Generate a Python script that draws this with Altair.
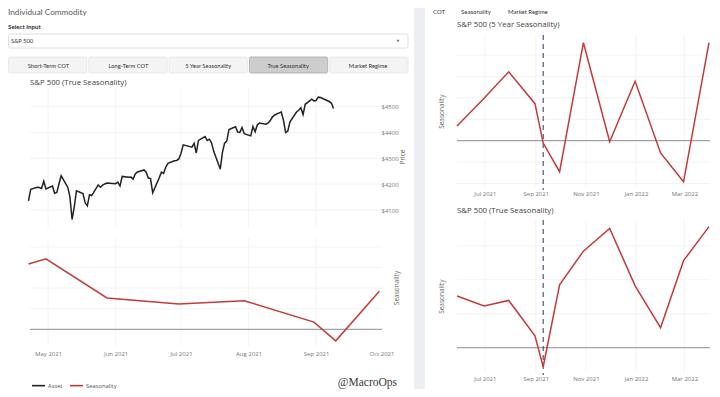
import altair as alt
import pandas as pd

# ---------------- data ----------------
price_dates = [
    "2021-04-22", "2021-04-23", "2021-04-26", "2021-04-27", "2021-04-28", "2021-04-29", "2021-04-30",
    "2021-05-03", "2021-05-04", "2021-05-05", "2021-05-06", "2021-05-07", "2021-05-10", "2021-05-11",
    "2021-05-12", "2021-05-13", "2021-05-14", "2021-05-17", "2021-05-18", "2021-05-19", "2021-05-20",
    "2021-05-21", "2021-05-24", "2021-05-25", "2021-05-26", "2021-05-27", "2021-05-28",
    "2021-06-01", "2021-06-02", "2021-06-03", "2021-06-04", "2021-06-07", "2021-06-08", "2021-06-09",
    "2021-06-10", "2021-06-11", "2021-06-14", "2021-06-15", "2021-06-16", "2021-06-17", "2021-06-18",
    "2021-06-21", "2021-06-22", "2021-06-23", "2021-06-24", "2021-06-25", "2021-06-28", "2021-06-29",
    "2021-06-30",
    "2021-07-01", "2021-07-02", "2021-07-06", "2021-07-07", "2021-07-08", "2021-07-09", "2021-07-12",
    "2021-07-13", "2021-07-14", "2021-07-15", "2021-07-16", "2021-07-19", "2021-07-20", "2021-07-21",
    "2021-07-22", "2021-07-23", "2021-07-26", "2021-07-27", "2021-07-28", "2021-07-29", "2021-07-30",
    "2021-08-02", "2021-08-03", "2021-08-04", "2021-08-05", "2021-08-06", "2021-08-09", "2021-08-10",
    "2021-08-11", "2021-08-12", "2021-08-13", "2021-08-16", "2021-08-17", "2021-08-18", "2021-08-19",
    "2021-08-20", "2021-08-23", "2021-08-24", "2021-08-25", "2021-08-26", "2021-08-27", "2021-08-30",
    "2021-08-31",
    "2021-09-01", "2021-09-02", "2021-09-03", "2021-09-07", "2021-09-08", "2021-09-09",
]
price_close = [
    4134.98, 4180.17, 4187.62, 4186.72, 4183.18, 4211.47, 4181.17,
    4192.66, 4164.66, 4167.59, 4201.62, 4232.60, 4188.43, 4152.10,
    4063.04, 4112.50, 4173.85, 4163.29, 4127.83, 4115.68, 4159.12,
    4155.86, 4197.05, 4188.13, 4195.99, 4200.88, 4204.11,
    4202.04, 4208.12, 4192.85, 4229.89, 4226.52, 4227.26, 4219.55,
    4239.18, 4247.44, 4255.15, 4246.59, 4223.70, 4221.86, 4166.45,
    4224.79, 4246.44, 4241.84, 4266.49, 4280.70, 4290.61, 4291.80,
    4297.50,
    4319.94, 4352.34, 4343.54, 4358.13, 4320.82, 4369.55, 4384.63,
    4369.21, 4374.30, 4360.03, 4327.16, 4258.49, 4323.06, 4358.69,
    4367.48, 4411.79, 4422.30, 4401.46, 4400.64, 4419.15, 4395.26,
    4387.16, 4423.15, 4402.66, 4429.10, 4436.52, 4432.35, 4436.75,
    4447.70, 4460.83, 4468.00, 4479.71, 4448.08, 4400.27, 4405.80,
    4441.67, 4479.53, 4486.23, 4496.19, 4469.91, 4509.37, 4528.79,
    4522.68,
    4524.09, 4536.95, 4535.43, 4520.03, 4514.07, 4493.28,
]

seas_dates = [
    "2021-04-22", "2021-04-30", "2021-05-28", "2021-06-30", "2021-07-30", "2021-08-31", "2021-09-10",
    "2021-09-30", "2021-10-29", "2021-11-30", "2021-12-31", "2022-01-31", "2022-02-28", "2022-03-31",
]
true_seasonality = [3.17, 3.42, 1.52, 1.23, 1.39, 0.35, -0.56, 1.85, 2.84, 3.51, 1.82, 0.59, 2.56, 3.56]

five_year_dates = [
    "2021-05-28", "2021-06-30", "2021-07-30", "2021-08-31", "2021-09-10", "2021-09-30",
    "2021-10-29", "2021-11-30", "2021-12-31", "2022-01-31", "2022-02-28", "2022-03-31",
]
five_year_seasonality = [0.69, 1.98, 3.22, 1.73, -0.11, -1.45, 4.58, -0.05, 2.78, -0.57, -1.92, 4.58]

current_date = "2021-09-10"
left_last_date = "2021-09-30"

price_ticks = [4100, 4200, 4300, 4400, 4500]
left_season_grid = [1, 2, 3, 4]
top_right_grid = [-2, -1, 1, 2, 3, 4]
bottom_right_grid = [1, 2, 3]
left_month_ticks = ["2021-05-01", "2021-06-01", "2021-07-01", "2021-08-01", "2021-09-01", "2021-10-01"]
right_month_ticks = ["2021-07-01", "2021-09-01", "2021-11-01", "2022-01-01", "2022-03-01"]

buttons = ["Short-Term COT", "Long-Term COT", "5 Year Seasonality", "True Seasonality", "Market Regime"]
active_button = "True Seasonality"
series_names = ["Asset", "Seasonality"]

# ---------------- layout helpers ----------------
W, H = 704, 381


def X(v):
    return v - 8


def Y(v):
    return v - 8


GRID = "#f0f0f0"
ZERO = "#8c8c8c"
RED = "#c23b3b"
LBL = "#777777"
PF = "Open Sans"
UF = "Lato"


def dt(s):
    y, m, d = map(int, s.split("-"))
    return alt.DateTime(year=y, month=m, date=d)


one = pd.DataFrame({"k": [0]})


def text_layer(txt, x, y, size, color="#444444", font=PF, weight="normal", align="left", angle=0):
    kw = dict(align=align, baseline="middle", fontSize=size, font=font, fontWeight=weight, color=color)
    if angle:
        kw["angle"] = angle
    return alt.Chart(pd.DataFrame({"t": [txt]})).mark_text(**kw).encode(
        x=alt.value(x), y=alt.value(y), text="t:N")


price_df = pd.DataFrame({"date": pd.to_datetime(price_dates), "value": price_close, "series": "Asset"})
seas_df = pd.DataFrame({"date": pd.to_datetime(seas_dates), "value": true_seasonality, "series": "Seasonality"})
left_seas_df = seas_df[seas_df["date"] <= pd.Timestamp(left_last_date)]
right_true_df = seas_df[seas_df["date"] >= pd.Timestamp(five_year_dates[0])]
five_df = pd.DataFrame({"date": pd.to_datetime(five_year_dates), "value": five_year_seasonality})
now_df = pd.DataFrame({"date": pd.to_datetime([current_date])})
left_grid_dates = pd.DataFrame({"date": pd.to_datetime(left_month_ticks[:-1])})
right_grid_dates = pd.DataFrame({"date": pd.to_datetime(right_month_ticks)})

# scales
lx = alt.Scale(domain=[dt("2021-04-22"), dt("2021-10-01")], range=[X(28.5), X(381.5)])
rx = alt.Scale(domain=[dt("2021-05-28"), dt("2022-03-31")], range=[X(457), X(709)])
py = alt.Scale(domain=[4100, 4500], range=[Y(210), Y(106.7)], zero=False, nice=False)
ly = alt.Scale(domain=[0, 4], range=[Y(329.3), Y(246.9)], zero=False, nice=False)
ty = alt.Scale(domain=[-2, 4], range=[Y(183.5), Y(55.1)], zero=False, nice=False)
by = alt.Scale(domain=[0, 3], range=[Y(347.7), Y(245.7)], zero=False, nice=False)
color_scale = alt.Scale(domain=series_names, range=["#222222", RED])

legend = alt.Legend(orient="none", legendX=X(31), legendY=Y(378), direction="horizontal", title=None,
                    symbolType="stroke", symbolSize=169, symbolStrokeWidth=1.6, labelFont=PF,
                    labelFontSize=5.8, labelColor="#555555", columnPadding=3, labelOffset=2, padding=0)


def date_axis(ticks, offset):
    return alt.Axis(orient="bottom", values=[dt(t) for t in ticks], format="%b %Y", offset=offset,
                    domain=False, ticks=False, grid=False, title=None, labelFont=PF, labelFontSize=6,
                    labelColor=LBL, labelPadding=2, labelOverlap=False, labelFlush=False, labelBound=False)


layers = []

# separator band between the panels
layers.append(alt.Chart(one).mark_rect(color="#eceef3").encode(
    x=alt.value(X(414)), x2=alt.value(X(425)), y=alt.value(0), y2=alt.value(H)))

# ---------- left panel UI ----------
layers.append(text_layer("Individual Commodity", 0, 5, 8.2, color="#5a5a5a", font=UF))
layers.append(text_layer("Select Input", 0, Y(27), 6.2, color="#333333", font=UF, weight="bold"))
layers.append(alt.Chart(one).mark_rect(fill="white", stroke="#d6d6d6", strokeWidth=0.8, cornerRadius=2).encode(
    x=alt.value(0.5), x2=alt.value(X(408)), y=alt.value(Y(34)), y2=alt.value(Y(48))))
layers.append(text_layer("S&P 500", 3, Y(41), 5.8, color="#333333", font=UF))
layers.append(alt.Chart(one).mark_point(shape="triangle-down", filled=True, size=9, color="#333333").encode(
    x=alt.value(X(398)), y=alt.value(Y(41))))

btn_df = pd.DataFrame({"label": buttons, "active": [b == active_button for b in buttons]})
bx = alt.Scale(domain=buttons, range=[0.5, X(408)], paddingInner=0.025, paddingOuter=0)
layers.append(alt.Chart(btn_df).mark_rect(strokeWidth=0.8, cornerRadius=1.5).encode(
    x=alt.X("label:N", scale=bx, axis=None, sort=buttons),
    y=alt.value(Y(57)), y2=alt.value(Y(73)),
    fill=alt.condition("datum.active", alt.value("#cdcdcd"), alt.value("#f4f4f4")),
    stroke=alt.condition("datum.active", alt.value("#a8a8a8"), alt.value("#e4e4e4"))))
layers.append(alt.Chart(btn_df).mark_text(fontSize=5.8, font=UF, color="#333333", baseline="middle").encode(
    x=alt.X("label:N", scale=bx, axis=None, sort=buttons), y=alt.value(Y(65.5)), text="label:N"))

# ---------- left chart ----------
layers.append(text_layer("S&P 500 (True Seasonality)", X(30), Y(83), 7.8, color="#444444"))

layers.append(alt.Chart(pd.DataFrame({"v": price_ticks})).mark_rule(color=GRID, strokeWidth=0.8).encode(
    y=alt.Y("v:Q", scale=py, axis=None), x=alt.value(X(30)), x2=alt.value(X(382))))
layers.append(alt.Chart(left_grid_dates).mark_rule(color=GRID, strokeWidth=0.8).encode(
    x=alt.X("date:T", scale=lx, axis=None), y=alt.value(Y(88)), y2=alt.value(Y(228))))
layers.append(alt.Chart(price_df).mark_line(strokeWidth=1.5).encode(
    x=alt.X("date:T", scale=lx, axis=None),
    y=alt.Y("value:Q", scale=py, axis=alt.Axis(
        orient="right", values=price_ticks, labelExpr="'$' + datum.value", offset=X(381) - W - 2,
        domain=False, ticks=False, grid=False, title=None, labelFont=PF, labelFontSize=6,
        labelColor=LBL, labelPadding=2)),
    color=alt.Color("series:N", scale=color_scale, legend=legend)))
layers.append(text_layer("Price", X(403), Y(157), 6.5, color="#666666", align="center", angle=270))

layers.append(alt.Chart(pd.DataFrame({"v": left_season_grid})).mark_rule(color=GRID, strokeWidth=0.8).encode(
    y=alt.Y("v:Q", scale=ly, axis=None), x=alt.value(X(30)), x2=alt.value(X(382))))
layers.append(alt.Chart(left_grid_dates).mark_rule(color=GRID, strokeWidth=0.8).encode(
    x=alt.X("date:T", scale=lx, axis=None), y=alt.value(Y(238)), y2=alt.value(Y(346))))
layers.append(alt.Chart(pd.DataFrame({"v": [0]})).mark_rule(color=ZERO, strokeWidth=1).encode(
    y=alt.Y("v:Q", scale=ly, axis=None), x=alt.value(X(30)), x2=alt.value(X(382))))
layers.append(alt.Chart(left_seas_df).mark_line(strokeWidth=1.5).encode(
    x=alt.X("date:T", scale=lx, axis=date_axis(left_month_ticks, -41)),
    y=alt.Y("value:Q", scale=ly, axis=None),
    color=alt.Color("series:N", scale=color_scale, legend=legend)))
layers.append(text_layer("Seasonality", X(397), Y(288), 6.5, color="#666666", align="center", angle=270))

layers.append(alt.Chart(pd.DataFrame({"t": ["@MacroOps"]})).mark_text(
    align="right", baseline="middle", fontSize=11.5, font="Liberation Serif", color="#3a3a3a").encode(
    x=alt.value(X(397)), y=alt.value(Y(383)), text="t:N"))

# ---------- right panel ----------
layers.append(text_layer("COT", X(433), 4, 6, color="#333333", font=UF))
layers.append(text_layer("Seasonality", X(461), 4, 6, color="#333333", font=UF))
layers.append(text_layer("Market Regime", X(508), 4, 6, color="#333333", font=UF))


def right_chart(title, title_y, df, yscale, grid_vals, grid_top, grid_bot, dash_top, dash_bot,
                axis_offset, ytitle_y):
    out = [text_layer(title, X(457), Y(title_y), 7.8, color="#444444")]
    out.append(alt.Chart(pd.DataFrame({"v": grid_vals})).mark_rule(color=GRID, strokeWidth=0.8).encode(
        y=alt.Y("v:Q", scale=yscale, axis=None), x=alt.value(X(457)), x2=alt.value(X(710))))
    out.append(alt.Chart(right_grid_dates).mark_rule(color=GRID, strokeWidth=0.8).encode(
        x=alt.X("date:T", scale=rx, axis=None), y=alt.value(Y(grid_top)), y2=alt.value(Y(grid_bot))))
    out.append(alt.Chart(pd.DataFrame({"v": [0]})).mark_rule(color=ZERO, strokeWidth=1).encode(
        y=alt.Y("v:Q", scale=yscale, axis=None), x=alt.value(X(457)), x2=alt.value(X(710))))
    out.append(alt.Chart(now_df).mark_rule(color="#3b4a63", strokeWidth=1.1, strokeDash=[5, 4]).encode(
        x=alt.X("date:T", scale=rx, axis=None), y=alt.value(Y(dash_top)), y2=alt.value(Y(dash_bot))))
    out.append(alt.Chart(df).mark_line(strokeWidth=1.5, color=RED).encode(
        x=alt.X("date:T", scale=rx, axis=date_axis(right_month_ticks, axis_offset)),
        y=alt.Y("value:Q", scale=yscale, axis=None)))
    out.append(text_layer("Seasonality", X(441.7), Y(ytitle_y), 6.5, color="#666666", align="center", angle=270))
    return out


layers += right_chart("S&P 500 (5 Year Seasonality)", 25, five_df, ty, top_right_grid,
                      35, 187, 35, 190, -201, 111.7)
layers += right_chart("S&P 500 (True Seasonality)", 210.7, right_true_df, by, bottom_right_grid,
                      220, 372, 220, 375, -16, 296.7)

chart = alt.layer(*layers).resolve_scale(x="independent", y="independent").properties(
    width=W, height=H, autosize=alt.AutoSizeParams(type="none"), padding=0, background="white"
).configure_view(stroke=None)

chart.save("out.html", embed_options={"renderer": "svg", "actions": False})
